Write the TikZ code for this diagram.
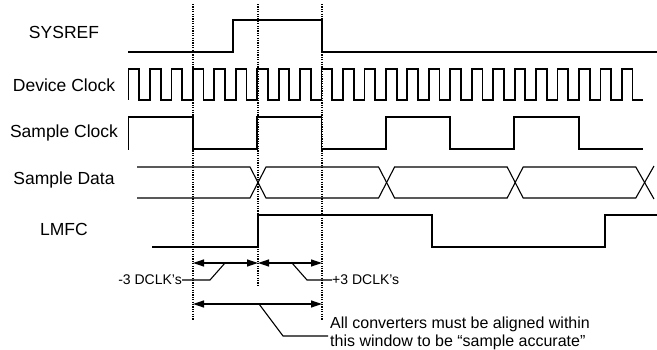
\documentclass[tikz,border=0pt]{standalone}
\usepackage{fontspec}
\setmainfont{Liberation Sans}
\usetikzlibrary{arrows.meta, positioning, calc}
\newcommand{\dclk}{21.45}
\tikzset{
  sig/.style={line width=1.8pt, line join=miter},
  datasig/.style={line width=1.1pt},
  guide/.style={dash pattern=on 1.2pt off 1.2pt, line width=1.1pt},
  span/.style={{Triangle[length=11pt,width=7pt]}-{Triangle[length=11pt,width=7pt]}, line width=1.2pt},
  leader/.style={line width=1.1pt},
  siglabel/.style={font=\fontsize{17.5}{20}\selectfont, anchor=base},
  dclklabel/.style={font=\fontsize{14}{17}\selectfont, inner sep=0pt},
  notelabel/.style={font=\fontsize{16}{18}\selectfont, inner sep=0pt, align=left}
}

\begin{document}
\begin{tikzpicture}[x=1pt, y=-1pt]
    \useasboundingbox (0,0) rectangle (657,350);

    % signal names
    \node[siglabel] (sysref) at (64,39) {SYSREF};
    \node[siglabel] (devclk) at (64,92) {Device Clock};
    \node[siglabel] (smpclk) at (64,138) {Sample Clock};
    \node[siglabel] (smpdata) at (64,185) {Sample Data};
    \node[siglabel] (lmfc) at (64,236) {LMFC};

    % dotted guides
    \coordinate (gA) at (193,4);
    \coordinate (gB) at (258,4);
    \coordinate (gC) at (322,4);
    \draw[guide] (gA) -- (193,320);
    \draw[guide] (gB) -- (258,285);
    \draw[guide] (gC) -- (322,320);

    % SYSREF
    \draw[sig] (128,52) -- (233,52) -- (233,20) -- (322,20) -- (322,52) -- (657,52);

    % Device Clock
    \draw[sig] (128.5,100) \foreach \k in {0,...,23} {
      -- ++(0,-31) -- ++(\dclk/2,0) -- ++(0,31) -- ++(\dclk/2,0)};

    % Sample Clock
    \draw[sig] (128.5,150) -- (128.5,117) \foreach \k in {0,1,2} {
      -- ++(64.3,0) -- ++(0,32) -- ++(64.3,0) -- ++(0,-32)}
      -- ++(64.3,0) -- ++(0,32) -- ++(64.3,0);

    % Sample Data
    \draw[datasig] (137,167) -- (250,167) -- (266,198) -- (378.6,198) -- (394.6,167)
      -- (507.2,167) -- (523.2,198) -- (635.8,198) -- (654,166);
    \draw[datasig] (137,198) -- (250,198) -- (266,167) -- (378.6,167) -- (394.6,198)
      -- (507.2,198) -- (523.2,167) -- (635.8,167) -- (654,199);

    % LMFC
    \draw[sig] (152,247) -- (258,247) -- (258,215) -- (432,215) -- (432,247)
      -- (605,247) -- (605,215) -- (657,215);

    % windows
    \coordinate (a1) at (193,263);
    \coordinate (a2) at (258,263);
    \coordinate (a3) at (322,263);
    \coordinate (b1) at (193,304);
    \coordinate (b3) at (322,304);
    \draw[span] (a1) -- (a2);
    \draw[span] (a2) -- (a3);
    \draw[span] (b1) -- (b3);

    % annotations
    \node[dclklabel, anchor=east] (minus) at (182,280) {-3 DCLK’s};
    \node[dclklabel, anchor=west] (plus) at (332,280) {+3 DCLK’s};
    \node[notelabel, anchor=north west] (window) at (330,317)
      {All converters must be aligned within\\this window to be “sample accurate”};
    \draw[leader] (minus.east) -- (210,280) -- (225,263);
    \draw[leader] (292,263) -- (307,280) -- (plus.west);
    \draw[leader] (259,304) -- (283,336) -- (328,336);
\end{tikzpicture}
\end{document}
